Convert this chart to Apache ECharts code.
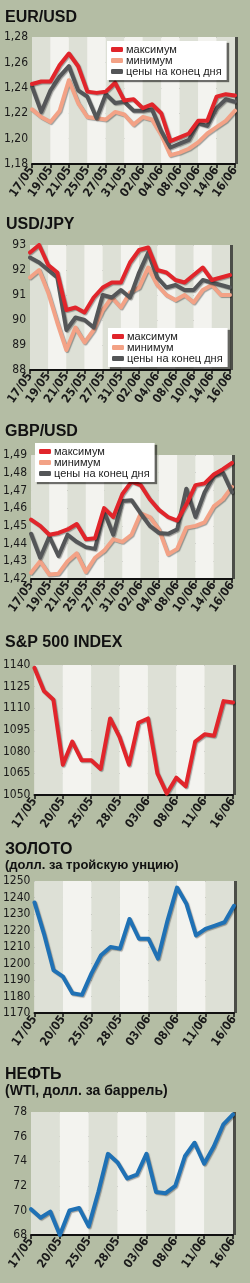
<!DOCTYPE html>
<html>
<head>
<meta charset="utf-8">
<script src="https://cdn.jsdelivr.net/npm/echarts@6/dist/echarts.min.js"></script>
<style>
html,body{margin:0;padding:0;background:#b4bda4;}
#c{width:250px;height:1283px;}
</style>
</head>
<body>
<div id="c"></div>
<script>
// ---- data ----
const datesFX = ['17/05','18/05','19/05','20/05','21/05','24/05','25/05','26/05','27/05','28/05','31/05','01/06','02/06','03/06','04/06','07/06','08/06','09/06','10/06','11/06','14/06','15/06','16/06'];
const datesUS = ['17/05','18/05','19/05','20/05','21/05','24/05','25/05','26/05','27/05','28/05','01/06','02/06','03/06','04/06','07/06','08/06','09/06','10/06','11/06','14/06','15/06','16/06'];

const eurMax   = [1.243,1.245,1.245,1.258,1.267,1.257,1.237,1.236,1.237,1.244,1.230,1.231,1.224,1.227,1.220,1.198,1.201,1.204,1.214,1.214,1.233,1.235,1.234];
const eurMin   = [1.223,1.217,1.213,1.222,1.246,1.228,1.217,1.216,1.215,1.221,1.219,1.211,1.217,1.215,1.203,1.187,1.189,1.192,1.197,1.204,1.209,1.214,1.222];
const eurClose = [1.241,1.221,1.238,1.249,1.257,1.238,1.233,1.216,1.235,1.228,1.229,1.222,1.222,1.223,1.206,1.193,1.196,1.199,1.212,1.210,1.224,1.231,1.229];

const jpyMax   = [92.7,93.0,92.2,91.9,90.4,90.5,90.3,90.9,91.3,91.5,91.5,92.3,92.8,92.9,92.0,91.9,91.6,91.5,91.8,92.1,91.6,91.7,91.8];
const jpyMin   = [91.7,92.0,91.1,89.9,88.8,89.7,89.1,89.6,90.4,90.9,90.5,91.1,91.3,92.1,91.4,91.0,90.8,91.0,90.7,91.2,91.4,91.0,91.0];
const jpyClose = [92.5,92.3,92.0,91.7,89.6,90.1,90.0,89.7,91.0,90.9,91.2,90.9,91.9,92.7,91.7,91.3,91.4,91.2,91.2,91.6,91.5,91.4,91.3];

const gbpMax   = [1.4535,1.450,1.445,1.446,1.448,1.451,1.4425,1.443,1.460,1.455,1.468,1.475,1.473,1.465,1.459,1.455,1.453,1.462,1.473,1.474,1.479,1.482,1.4855];
const gbpMin   = [1.4235,1.430,1.4225,1.423,1.430,1.4345,1.424,1.432,1.436,1.4425,1.441,1.445,1.457,1.455,1.448,1.434,1.437,1.449,1.450,1.452,1.461,1.465,1.472];
const gbpClose = [1.4455,1.432,1.444,1.433,1.445,1.441,1.438,1.437,1.458,1.445,1.464,1.4645,1.457,1.450,1.446,1.4455,1.448,1.471,1.455,1.469,1.478,1.480,1.469];

const spx  = [1138,1122,1116,1071,1087,1074,1074,1068,1103,1090,1071,1100,1103,1065,1051,1062,1056,1087,1092,1091,1115,1114];
const gold = [1237,1218,1196,1192,1182,1181,1194,1205,1210,1209,1227,1215,1215,1203,1226,1246,1236,1217,1221,1223,1225,1235];
const oil  = [70.1,69.4,69.9,68.0,70.0,70.2,68.7,71.5,74.6,73.9,72.6,72.9,74.6,71.5,71.4,72.0,74.4,75.5,73.8,75.2,77.0,77.8];

const names = ['максимум','минимум','цены на конец дня'];
const titles = ['EUR/USD','USD/JPY','GBP/USD','S&P 500 INDEX','ЗОЛОТО','НЕФТЬ'];
const subtitles = ['(долл. за тройскую унцию)','(WTI, долл. за баррель)'];

// ---- styles ----
const C = {max:'#e1252b', min:'#f3a286', close:'#545658', blue:'#1f71b5'};
const NARROW = "'Liberation Sans Narrow','Arial Narrow','DejaVu Sans Condensed',sans-serif";
const SANS = "'Liberation Sans',Arial,sans-serif";

const panels = [
  {left:32, top:37,   width:203, height:127, min:1.18, max:1.28, interval:0.02, dates:datesFX, step:1, fmt:v=>v.toFixed(2).replace('.',',')},
  {left:30, top:245,  width:200, height:125, min:88,   max:93,   interval:1,    dates:datesFX, step:1, fmt:v=>String(v)},
  {left:30, top:455,  width:202, height:124, min:1.42, max:1.49, interval:0.01, dates:datesFX, step:1, fmt:v=>v.toFixed(2).replace('.',',')},
  {left:32, top:665,  width:201, height:130, min:1050, max:1140, interval:15,   dates:datesUS, step:2, fmt:v=>String(v)},
  {left:32, top:881,  width:202, height:132, min:1170, max:1250, interval:10,   dates:datesUS, step:2, fmt:v=>String(v)},
  {left:31, top:1112, width:202, height:123, min:68,   max:78,   interval:2,    dates:datesUS, step:2, fmt:v=>String(v)}
];

const grid = [], xAxis = [], yAxis = [];
panels.forEach((p,i)=>{
  grid.push({left:p.left, top:p.top, width:p.width, height:p.height, show:true, backgroundColor:'#e9eae3', borderWidth:0,
    shadowColor:'rgba(40,40,40,0.75)', shadowOffsetX:3, shadowOffsetY:0, shadowBlur:0});
  xAxis.push({type:'category', gridIndex:i, data:p.dates, boundaryGap:false,
    axisLine:{show:true, lineStyle:{color:'#111', width:2}},
    axisTick:{show:true, interval:p.step, length:4, lineStyle:{color:'#111', width:1.5}},
    axisLabel:{interval:p.step, rotate:55, margin:4, fontSize:12, fontWeight:'bold', color:'#1a1a1a', fontFamily:NARROW},
    splitLine:{show:false},
    splitArea:{show:true, interval:p.step, areaStyle:{color:['#dde0d6','#f3f3ef']}}});
  yAxis.push({type:'value', gridIndex:i, min:p.min, max:p.max, interval:p.interval,
    axisLine:{show:false}, axisTick:{show:false},
    axisLabel:{margin:4, fontSize:12, color:'#1a1a1a', fontFamily:NARROW, formatter:p.fmt},
    splitLine:{show:true, lineStyle:{color:'#7d7d78', width:1, type:[4,3]}}});
});

function line(name, data, color, gi){
  return {type:'line', name, data, xAxisIndex:gi, yAxisIndex:gi, symbol:'none', showSymbol:false,
    lineStyle:{width:4, color, cap:'round', join:'round', shadowColor:'rgba(0,0,0,0.35)', shadowBlur:1, shadowOffsetX:1, shadowOffsetY:1},
    itemStyle:{color}, silent:true, emphasis:{disabled:true}, z:3};
}

const series = [
  line(names[1], eurMin, C.min, 0), line(names[2], eurClose, C.close, 0), line(names[0], eurMax, C.max, 0),
  line(names[1], jpyMin, C.min, 1), line(names[2], jpyClose, C.close, 1), line(names[0], jpyMax, C.max, 1),
  line(names[1], gbpMin, C.min, 2), line(names[2], gbpClose, C.close, 2), line(names[0], gbpMax, C.max, 2),
  line('S&P 500', spx, C.max, 3),
  line('gold', gold, C.blue, 4),
  line('oil', oil, C.blue, 5)
];

function legend(left, top){
  return {orient:'vertical', left, top, data:names, selectedMode:false, icon:'roundRect',
    itemWidth:12, itemHeight:5, itemGap:0, backgroundColor:'#ffffff', padding:[3,5,3,4],
    shadowColor:'rgba(0,0,0,0.55)', shadowBlur:1, shadowOffsetX:2, shadowOffsetY:2,
    textStyle:{fontSize:11, lineHeight:11, color:'#222', fontFamily:SANS, padding:[0,0,0,-2]}};
}

const titleStyle = {fontSize:16, fontWeight:900, color:'#111', fontFamily:SANS};
const title = [
  {text:titles[0], left:5, top:10, padding:0, textStyle:titleStyle},
  {text:titles[1], left:6, top:217, padding:0, textStyle:titleStyle},
  {text:titles[2], left:5, top:424, padding:0, textStyle:titleStyle},
  {text:titles[3], left:5, top:635, padding:0, textStyle:titleStyle},
  {text:titles[4], left:5, top:842, padding:0, textStyle:titleStyle},
  {text:subtitles[0], left:5, top:859, padding:0, textStyle:{fontSize:13, fontWeight:'bold', color:'#111', fontFamily:SANS}},
  {text:titles[5], left:5, top:1067, padding:0, textStyle:titleStyle},
  {text:subtitles[1], left:5, top:1084, padding:0, textStyle:{fontSize:14, fontWeight:'bold', color:'#111', fontFamily:SANS}}
];

const chart = echarts.init(document.getElementById('c'), null, {renderer:'canvas'});
chart.setOption({
  animation:false,
  backgroundColor:'#b4bda4',
  title, grid, xAxis, yAxis, series,
  legend:[legend(107,41), legend(108,328), legend(35,443)]
});
</script>
</body>
</html>
